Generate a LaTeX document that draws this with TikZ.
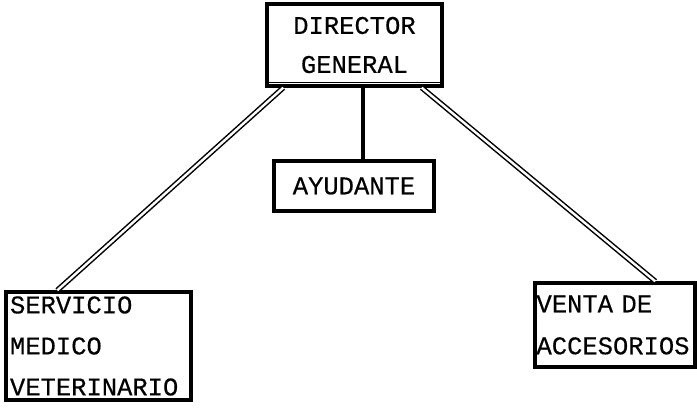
\documentclass[tikz,border=0pt]{standalone}
\usepackage{fontspec}
\newfontfamily\tw[FakeBold=0.4]{Liberation Mono}
\usetikzlibrary{calc}
\begin{document}
\begin{tikzpicture}[x=1pt,y=-1pt,
  orgbox/.style={draw,line width=3.4pt,inner ysep=0pt,font={\tw\fontsize{25.5}{40}\selectfont}},
  dline/.style={double,line width=1.5pt,double distance=2.4pt},
  sline/.style={line width=4.5pt}]
\useasboundingbox (0,0) rectangle (697,410);
\node[orgbox,minimum width=175pt,minimum height=82pt,align=center,font={\tw\fontsize{25.5}{39}\selectfont}] (dir) at (354.5,45) {DIRECTOR\\GENERAL};
\node[orgbox,minimum width=160pt,minimum height=50pt] (ayu) at (354,186) {AYUDANTE};
\node[orgbox,minimum height=108pt,text width=177pt,inner xsep=4pt,align=left,font={\tw\fontsize{25.5}{41}\selectfont}] (ser) at (98.5,346) {SERVICIO\\MEDICO\\VETERINARIO};
\node[orgbox,minimum height=84pt,text width=157pt,inner xsep=1.5pt,align=left,font={\tw\fontsize{25.5}{42}\selectfont}] (ven) at (615,325) {VENTA DE\\ACCESORIOS};
\coordinate (vx) at (363,0);
\draw[line width=1.3pt] ($(dir.south west)+(3,-5)$) -- ($(dir.south east)+(-3,-5)$);
\draw[sline] (dir.south -| vx) -- (ayu.north -| vx);
\draw[dline] ($(dir.south west)+(18,0)$) -- ($(ser.north west)+(53,0)$);
\draw[dline] ($(dir.south east)+(-22,0)$) -- ($(ven.north west)+(122,0)$);
\end{tikzpicture}
\end{document}
